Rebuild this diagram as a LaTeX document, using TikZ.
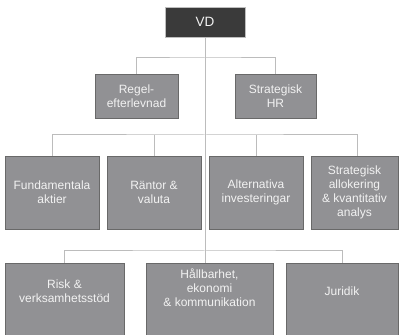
\documentclass[tikz,border=0pt]{standalone}
\usepackage{fontspec}
\setmainfont{Liberation Sans}
\definecolor{boxfill}{RGB}{145,145,148}
\definecolor{boxline}{RGB}{105,105,105}
\definecolor{vdfill}{RGB}{58,58,58}
\definecolor{vdline}{RGB}{190,190,190}
\definecolor{conn}{RGB}{188,188,188}
\definecolor{txt}{RGB}{242,242,242}
\tikzset{
  orgbox/.style={draw=boxline, fill=boxfill, line width=0.9pt, inner sep=0pt,
    text=txt, align=center, font=\fontsize{12}{14}\selectfont},
  vdbox/.style={draw=vdline, fill=vdfill, line width=0.8pt, inner sep=0pt,
    minimum width=80pt, minimum height=30pt, text=txt, font=\fontsize{13.5}{15}\selectfont},
  lbl/.style={inner sep=0pt, text=txt, align=center, font=\fontsize{12}{14}\selectfont},
  connector/.style={draw=conn, line width=1pt}
}
\begin{document}
\begin{tikzpicture}[x=1pt,y=1pt]
\useasboundingbox (0,0) rectangle (402,335);
\fill[white] (0,0) rectangle (402,335);
\coordinate (j1) at (205,277);
\coordinate (j2) at (205,200);
\coordinate (j3) at (205,84);
\node[vdbox] (vd) at (205,313) {VD};
\node[orgbox, minimum width=83pt, minimum height=44pt] (regel) at (136.5,239) {Regel-\\efterlevnad};
\node[orgbox, minimum width=81pt, minimum height=44pt] (shr) at (275.5,239) {Strategisk\\HR};
\node[orgbox, minimum width=94pt, minimum height=73pt] (fund) at (52,142.5) {Fundamentala\\aktier};
\node[orgbox, minimum width=94pt, minimum height=73pt] (rant) at (154,142.5) {Räntor \&\\valuta};
\node[orgbox, minimum width=94pt, minimum height=73pt] (alt) at (256,142.5) {Alternativa\\investeringar};
\node[orgbox, minimum width=87pt, minimum height=73pt] (salloc) at (354.5,142.5) {Strategisk\\allokering\\\& kvantitativ\\analys};
\node[orgbox, minimum width=119pt, minimum height=76pt] (risk) at (64.5,34) {};
\node[orgbox, minimum width=127pt, minimum height=76pt] (hall) at (209.5,34) {};
\node[orgbox, minimum width=112pt, minimum height=76pt] (jur) at (342,34) {};
\node[lbl] (risktxt) at ([yshift=-29pt]risk.north) {Risk \&\\verksamhetsstöd};
\node[lbl] (halltxt) at ([yshift=-25pt]hall.north) {Hållbarhet,\\ekonomi\\\& kommunikation};
\node[lbl] (jurtxt) at ([yshift=-29pt]jur.north) {Juridik};
\draw[connector] (vd.south) -- (vd.south |- hall.north);
\draw[connector] (regel.north) |- (j1) -| (shr.north);
\draw[connector] (fund.north) |- (j2) -| ([xshift=2.5pt]salloc.north);
\draw[connector] (rant.north) -- (rant.north |- j2);
\draw[connector] (alt.north) -- (alt.north |- j2);
\draw[connector] (risk.north) |- (j3) -| (jur.north);
\end{tikzpicture}
\end{document}
